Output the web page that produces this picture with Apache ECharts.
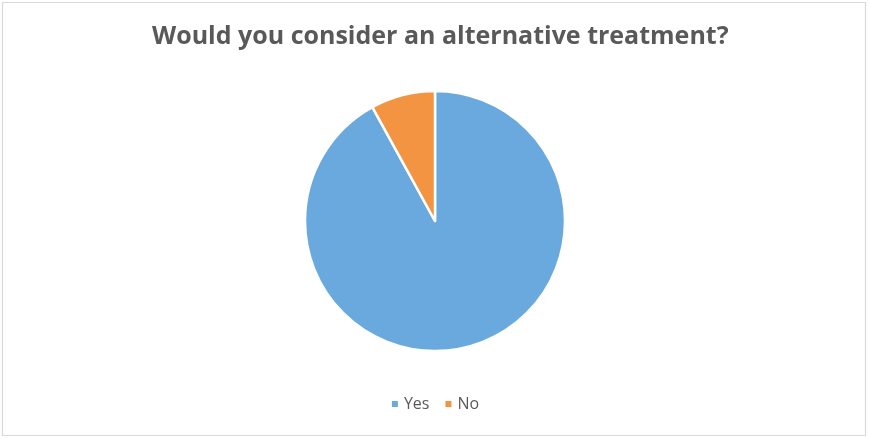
<!DOCTYPE html>
<html>
<head>
<meta charset="utf-8">
<script src="https://cdn.jsdelivr.net/npm/echarts@6/dist/echarts.min.js"></script>
<style>
  html, body { margin: 0; padding: 0; background: #fff; }
  #chart { width: 869px; height: 438px; }
</style>
</head>
<body>
<div id="chart"></div>
<script>
// Survey answers
const categories = ['Yes', 'No'];
const shares = [92, 8];
const colors = ['#6aa9dd', '#f39443'];

const chart = echarts.init(document.getElementById('chart'), null, { renderer: 'canvas' });

chart.setOption({
  animation: false,
  backgroundColor: '#ffffff',
  graphic: [{
    type: 'rect',
    shape: { x: 2.5, y: 2.5, width: 863, height: 433 },
    style: { fill: 'none', stroke: '#d9d9d9', lineWidth: 1.2 },
    silent: true
  }],
  title: {
    text: 'Would you consider an alternative treatment?',
    left: 147,
    top: 19,
    textStyle: {
      fontFamily: 'Open Sans',
      fontWeight: 'bold',
      fontSize: 25,
      color: '#595959'
    }
  },
  legend: {
    bottom: 21,
    left: 'center',
    itemWidth: 8,
    itemHeight: 8,
    itemGap: 14,
    icon: 'rect',
    textStyle: { fontFamily: 'Open Sans', fontSize: 16, color: '#595959' },
    data: categories
  },
  series: [{
    type: 'pie',
    center: [435, 221],
    radius: [0, 130],
    startAngle: 90,
    clockwise: true,
    label: { show: false },
    labelLine: { show: false },
    itemStyle: { borderColor: '#ffffff', borderWidth: 2.5 },
    data: categories.map((c, i) => ({ name: c, value: shares[i], itemStyle: { color: colors[i] } }))
  }]
});
</script>
</body>
</html>
